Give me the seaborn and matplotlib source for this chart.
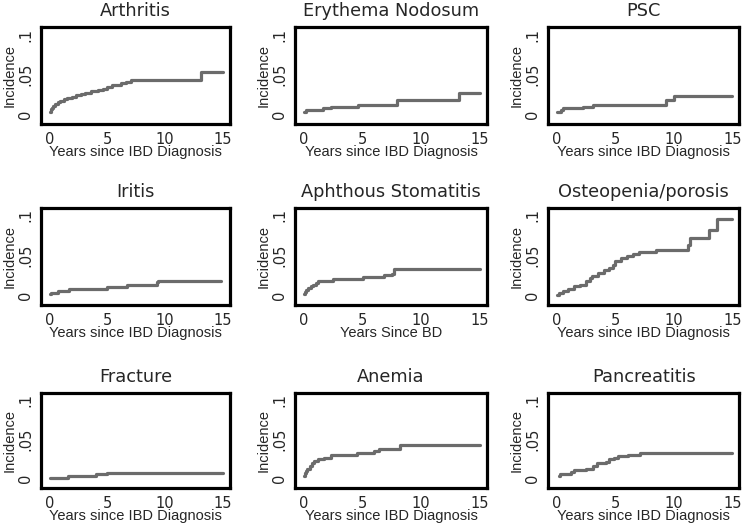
import matplotlib
matplotlib.use("Agg")
import matplotlib.pyplot as plt
import seaborn as sns
import pandas as pd

# ---- data ----
titles = ["Arthritis", "Erythema Nodosum", "PSC",
          "Iritis", "Aphthous Stomatitis", "Osteopenia/porosis",
          "Fracture", "Anemia", "Pancreatitis"]
xlabels = ["Years since IBD Diagnosis"] * 9
xlabels[4] = "Years Since BD"

arthritis_t = [0, 0.1, 0.2, 0.3, 0.5, 0.7, 0.9, 1.2, 1.5, 1.9, 2.3, 2.7, 3.1, 3.6, 4.2, 4.6, 5.0, 5.4, 5.8, 6.2, 6.6, 7.0, 13.1, 15]
arthritis_y = [0.003, 0.006, 0.008, 0.010, 0.013, 0.015, 0.017, 0.019, 0.020, 0.022, 0.024, 0.025, 0.027, 0.029, 0.030, 0.032, 0.034, 0.036, 0.037, 0.039, 0.040, 0.043, 0.053, 0.053]

erythema_t = [0, 0.15, 1.6, 2.3, 4.6, 7.9, 13.2, 15]
erythema_y = [0.003, 0.005, 0.007, 0.009, 0.0115, 0.018, 0.027, 0.027]

psc_t = [0, 0.4, 0.5, 2.2, 3.1, 9.3, 10.0, 15]
psc_y = [0.002, 0.005, 0.007, 0.009, 0.0115, 0.018, 0.023, 0.023]

iritis_t = [0, 0.1, 0.7, 1.7, 5.0, 6.7, 9.3, 9.4, 14.8]
iritis_y = [0.001, 0.003, 0.005, 0.007, 0.0095, 0.012, 0.0165, 0.018, 0.018]

aphthous_t = [0, 0.1, 0.2, 0.4, 0.6, 0.8, 1.0, 1.2, 2.5, 5.0, 6.8, 7.5, 7.7, 15]
aphthous_y = [0.001, 0.004, 0.006, 0.009, 0.011, 0.013, 0.015, 0.018, 0.020, 0.022, 0.025, 0.027, 0.033, 0.033]

osteo_t = [0, 0.2, 0.5, 1.0, 1.5, 2.0, 2.5, 2.8, 3.0, 3.5, 4.0, 4.5, 4.8, 5.0, 5.5, 6.0, 6.5, 7.0, 8.5, 11.2, 11.4, 13.0, 13.7, 15]
osteo_y = [0.0, 0.002, 0.005, 0.008, 0.011, 0.013, 0.017, 0.021, 0.024, 0.028, 0.031, 0.034, 0.038, 0.043, 0.046, 0.049, 0.052, 0.054, 0.056, 0.063, 0.072, 0.082, 0.096, 0.096]

fracture_t = [0, 1.6, 4.0, 5.0, 15]
fracture_y = [0.0, 0.003, 0.005, 0.007, 0.007]

anemia_t = [0, 0.1, 0.2, 0.3, 0.5, 0.7, 0.9, 1.2, 1.7, 2.3, 4.5, 6.0, 6.4, 8.2, 15]
anemia_y = [0.003, 0.006, 0.009, 0.012, 0.015, 0.019, 0.022, 0.024, 0.026, 0.029, 0.0325, 0.035, 0.037, 0.042, 0.042]

pancreatitis_t = [0.15, 0.3, 1.2, 1.5, 2.5, 3.1, 3.4, 4.2, 4.5, 4.9, 5.2, 6.1, 7.1, 15]
pancreatitis_y = [0.003, 0.005, 0.008, 0.010, 0.012, 0.016, 0.019, 0.021, 0.024, 0.026, 0.028, 0.030, 0.032, 0.032]

series = [(arthritis_t, arthritis_y), (erythema_t, erythema_y), (psc_t, psc_y),
          (iritis_t, iritis_y), (aphthous_t, aphthous_y), (osteo_t, osteo_y),
          (fracture_t, fracture_y), (anemia_t, anemia_y), (pancreatitis_t, pancreatitis_y)]

xticks = [0, 5, 10, 15]
yticks = [0, 0.05, 0.1]
yticklabels = ["0", ".05", ".1"]

# ---- drawing ----
sns.set_style("white")
plt.rcParams['font.family'] = ['DejaVu Sans']

fig = plt.figure(figsize=(7.44, 5.26), dpi=100)

lefts = [0.0551, 0.3965, 0.7366]
widths = [0.254, 0.258, 0.257]
bottoms = [0.764, 0.420, 0.0722]
heights = [0.184, 0.184, 0.181]

for i, (t, y) in enumerate(series):
    r, c = divmod(i, 3)
    ax = fig.add_axes([lefts[c], bottoms[r], widths[c], heights[r]])
    df = pd.DataFrame({"t": t, "y": y})
    sns.lineplot(data=df, x="t", y="y", ax=ax, drawstyle="steps-post",
                 color="#6b6b6b", linewidth=2.3, estimator=None, sort=False)
    ax.set_xlim(-0.75, 15.6)
    ax.set_ylim(-0.0127, 0.109)
    ax.set_xticks(xticks)
    ax.set_xticklabels([str(v) for v in xticks], fontsize=10.5)
    ax.set_yticks(yticks)
    ax.set_yticklabels(yticklabels, fontsize=10.5, rotation=90, va="center")
    ax.tick_params(axis="both", direction="out", length=4, width=2, color="black", pad=1.5)
    for s in ax.spines.values():
        s.set_linewidth(2.3)
        s.set_color("black")
    ax.set_title(titles[i], fontsize=12.8, pad=8)
    ax.set_xlabel(xlabels[i], fontsize=10.5, labelpad=-1,
                  family=["Liberation Sans", "DejaVu Sans"])
    ax.set_ylabel("Incidence", fontsize=10.5, labelpad=1,
                  family=["Liberation Sans", "DejaVu Sans"])

fig.savefig("out.png", dpi=100)
